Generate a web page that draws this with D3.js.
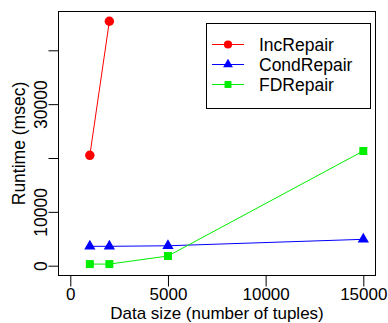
<!DOCTYPE html>
<html>
<head>
<meta charset="utf-8">
<script src="https://cdn.jsdelivr.net/npm/d3@7"></script>
<style>
  body { margin: 0; background: #fff; }
  text { font-family: "Liberation Sans", Arial, sans-serif; font-size: 17.5px; fill: #000; }
</style>
</head>
<body>
<script>
const width = 388;
const height = 323;

// data
const incSizes = [1000, 2000];
const incRuntime = [20500, 45400];
const condSizes = [1000, 2000, 5000, 15000];
const condRuntime = [3600, 3600, 3700, 4900];
const fdSizes = [1000, 2000, 5000, 15000];
const fdRuntime = [300, 300, 1800, 21300];
const seriesNames = ["IncRepair", "CondRepair", "FDRepair"];
const seriesColors = ["#ff0000", "#0000ff", "#00ee00"];
const xTicks = [0, 5000, 10000, 15000];
const yTicks = [0, 10000, 20000, 30000, 40000];
const yTickLabels = ["0", "10000", "", "30000", ""];

const box = { left: 58.5, right: 375.5, top: 11.5, bottom: 275.5 };

const x = d3.scaleLinear().domain([0, 15000]).range([70.3, 363.3]);
const y = d3.scaleLinear().domain([0, 40000]).range([265.7, 50.3]);

const svg = d3.select("body")
  .append("svg")
  .attr("width", width)
  .attr("height", height);

// plot frame
svg.append("rect")
  .attr("x", box.left)
  .attr("y", box.top)
  .attr("width", box.right - box.left)
  .attr("height", box.bottom - box.top)
  .attr("fill", "none")
  .attr("stroke", "#000")
  .attr("stroke-width", 1);

// x axis, detached like R
const xAxis = svg.append("g")
  .attr("transform", `translate(0,${box.bottom})`)
  .call(d3.axisBottom(x).tickValues(xTicks).tickSize(11).tickPadding(1.5).tickFormat(d3.format("d")));
xAxis.select(".domain")
  .attr("d", `M${x(0)},0H${x(15000)}`);
xAxis.selectAll("text").style("font-size", "17px").attr("fill", "#000");

// y axis
const yAxis = svg.append("g")
  .attr("transform", `translate(${box.left},0)`)
  .call(d3.axisLeft(y).tickValues(yTicks).tickSize(10).tickFormat((d, i) => yTickLabels[i]));
yAxis.select(".domain")
  .attr("d", `M0,${y(0)}V${y(40000)}`);
yAxis.selectAll(".tick text")
  .style("font-size", "17.5px")
  .attr("fill", "#000")
  .attr("text-anchor", "middle")
  .attr("x", 0)
  .attr("y", 0)
  .attr("dy", 0)
  .attr("transform", "translate(-12,0) rotate(-90)");

// axis titles
svg.append("text")
  .attr("x", (box.left + box.right) / 2)
  .attr("y", 319.3)
  .attr("text-anchor", "middle")
  .style("font-size", "17px")
  .text("Data size (number of tuples)");

svg.append("text")
  .attr("transform", `translate(25,${(box.top + box.bottom) / 2}) rotate(-90)`)
  .attr("text-anchor", "middle")
  .text("Runtime (msec)");

const line = d3.line().x(d => x(d[0])).y(d => y(d[1]));

const series = [
  { name: seriesNames[0], color: seriesColors[0], shape: d3.symbolCircle, size: 70, pts: d3.zip(incSizes, incRuntime) },
  { name: seriesNames[1], color: seriesColors[1], shape: d3.symbolTriangle, size: 55, pts: d3.zip(condSizes, condRuntime) },
  { name: seriesNames[2], color: seriesColors[2], shape: d3.symbolSquare, size: 64, pts: d3.zip(fdSizes, fdRuntime) }
];

series.forEach(s => {
  svg.append("path")
    .attr("d", line(s.pts))
    .attr("fill", "none")
    .attr("stroke", s.color)
    .attr("stroke-width", 1);

  svg.append("g")
    .selectAll("path")
    .data(s.pts)
    .enter()
    .append("path")
    .attr("transform", d => `translate(${x(d[0])},${y(d[1])})`)
    .attr("d", d3.symbol().type(s.shape).size(s.size))
    .attr("fill", s.color);
});

// legend
const legend = svg.append("g");
legend.append("rect")
  .attr("x", 206.5)
  .attr("y", 23.5)
  .attr("width", 164)
  .attr("height", 85)
  .attr("fill", "#fff")
  .attr("stroke", "#000");

const item = legend.selectAll(".item")
  .data(series)
  .enter()
  .append("g")
  .attr("transform", (d, i) => `translate(0,${44.5 + i * 20})`);

item.append("line")
  .attr("x1", 212)
  .attr("x2", 244)
  .attr("stroke", d => d.color);

item.append("path")
  .attr("transform", "translate(228,0)")
  .attr("d", d => d3.symbol().type(d.shape).size(d.size * 0.75)())
  .attr("fill", d => d.color);

item.append("text")
  .attr("x", 259)
  .attr("dy", "0.35em")
  .text(d => d.name);
</script>
</body>
</html>
